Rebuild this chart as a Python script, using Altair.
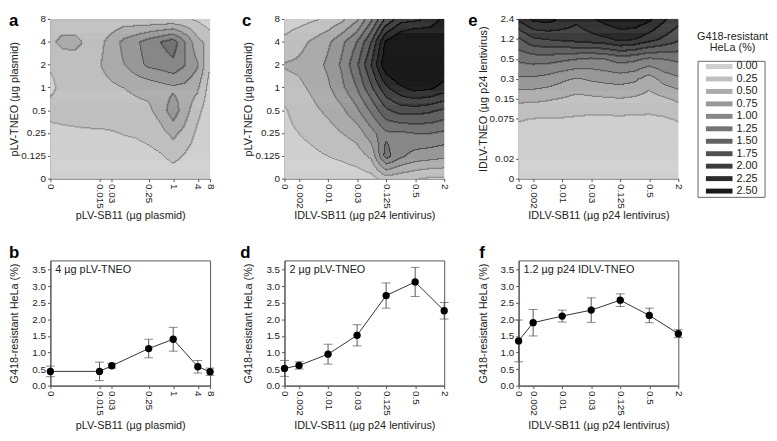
import altair as alt
import numpy as np
import pandas as pd

alt.data_transformers.disable_max_rows()
FONT = "Liberation Sans"

# ---------------- categories / tick labels ----------------
PL_SB11_CATS = ["0", "0.002", "0.004", "0.008", "0.015", "0.03", "0.06", "0.125", "0.25", "0.5", "1", "2", "4", "8"]
PL_SB11_SHOWN = ["0", "0.015", "0.03", "0.25", "1", "4", "8"]
PL_TNEO_CATS = ["0", "0.125", "0.25", "0.5", "1", "2", "4", "8"]
ID_SB11_CATS = ["0", "0.002", "0.005", "0.01", "0.02", "0.03", "0.06", "0.125", "0.25", "0.5", "1", "2"]
ID_SB11_SHOWN = ["0", "0.002", "0.01", "0.03", "0.125", "0.5", "2"]
ID_TNEO_CATS = ["0", "0.02", "0.04", "0.075", "0.15", "0.3", "0.5", "1.2", "2.4"]
ID_TNEO_SHOWN = ["0", "0.02", "0.075", "0.15", "0.3", "0.5", "1.2", "2.4"]

# ---------------- contour levels ----------------
LEVELS = ["0.00", "0.25", "0.50", "0.75", "1.00", "1.25", "1.50", "1.75", "2.00", "2.25", "2.50"]
GREYS = ["#cfcfcf", "#bfbfbf", "#ababab", "#989898", "#878787", "#747474",
         "#626262", "#505050", "#3c3c3c", "#2a2a2a", "#1a1a1a"]
LINE_GREYS = ["#8f8f8f", "#838383", "#6f6f6f", "#5c5c5c", "#4b4b4b", "#383838",
              "#262626", "#141414", "#0a0a0a", "#050505", "#000000"]

# ---------------- contour grids (top row = highest TNEO) ----------------
GRID_A = [
    [0.30, 0.33, 0.33, 0.30, 0.30, 0.33, 0.35, 0.33, 0.30, 0.30, 0.30, 0.28, 0.22, 0.10],
    [0.43, 0.58, 0.58, 0.45, 0.43, 0.60, 0.82, 0.95, 1.12, 1.25, 1.40, 1.00, 0.57, 0.42],
    [0.27, 0.32, 0.34, 0.38, 0.48, 0.62, 0.74, 0.90, 1.05, 1.10, 1.18, 1.00, 0.78, 0.27],
    [0.20, 0.30, 0.33, 0.36, 0.40, 0.45, 0.50, 0.55, 0.58, 0.65, 0.70, 0.68, 0.55, 0.15],
    [0.32, 0.33, 0.34, 0.35, 0.36, 0.38, 0.40, 0.42, 0.45, 0.60, 0.90, 0.60, 0.32, 0.10],
    [0.18, 0.20, 0.21, 0.22, 0.22, 0.23, 0.26, 0.28, 0.33, 0.42, 0.56, 0.42, 0.20, 0.05],
    [0.08, 0.09, 0.10, 0.10, 0.10, 0.11, 0.12, 0.14, 0.17, 0.22, 0.33, 0.22, 0.10, 0.03],
    [0.02, 0.02, 0.02, 0.02, 0.02, 0.02, 0.02, 0.03, 0.04, 0.05, 0.07, 0.05, 0.03, 0.02],
]
GRID_C = [
    [0.12, 0.16, 0.22, 0.30, 0.45, 0.70, 1.20, 1.80, 2.15, 2.20, 2.30, 2.60],
    [0.30, 0.42, 0.55, 0.70, 0.95, 1.25, 1.75, 2.55, 2.80, 2.95, 2.90, 2.80],
    [0.52, 0.55, 0.62, 0.80, 1.05, 1.45, 2.00, 2.70, 2.95, 3.12, 2.90, 2.75],
    [0.40, 0.45, 0.55, 0.70, 0.95, 1.25, 1.70, 2.20, 2.45, 2.60, 2.55, 2.40],
    [0.22, 0.35, 0.45, 0.55, 0.70, 0.95, 1.30, 1.70, 1.85, 1.85, 1.80, 1.70],
    [0.18, 0.25, 0.32, 0.40, 0.50, 0.60, 0.90, 1.20, 1.20, 1.25, 1.25, 1.20],
    [0.12, 0.15, 0.20, 0.25, 0.30, 0.38, 0.55, 1.35, 1.05, 0.90, 0.85, 0.80],
    [0.05, 0.05, 0.05, 0.06, 0.08, 0.10, 0.15, 0.35, 0.30, 0.25, 0.20, 0.20],
]
GRID_E = [
    [2.30, 2.55, 2.60, 2.45, 2.30, 2.45, 2.60, 2.70, 2.70, 2.55, 2.30, 2.10],
    [1.70, 1.95, 2.00, 2.05, 2.10, 2.15, 2.20, 2.30, 2.25, 2.10, 1.95, 1.80],
    [1.30, 1.35, 1.35, 1.30, 1.25, 1.20, 1.25, 1.35, 1.30, 1.20, 1.25, 1.30],
    [0.95, 0.95, 0.90, 0.80, 0.72, 0.78, 0.82, 0.85, 0.80, 0.62, 0.85, 0.95],
    [0.55, 0.55, 0.52, 0.48, 0.42, 0.44, 0.46, 0.48, 0.45, 0.40, 0.45, 0.55],
    [0.27, 0.24, 0.23, 0.23, 0.22, 0.20, 0.20, 0.20, 0.20, 0.20, 0.22, 0.27],
    [0.12, 0.12, 0.12, 0.11, 0.10, 0.10, 0.10, 0.10, 0.10, 0.10, 0.10, 0.12],
    [0.05, 0.05, 0.05, 0.05, 0.05, 0.05, 0.05, 0.05, 0.05, 0.05, 0.05, 0.05],
    [0.00, 0.00, 0.00, 0.00, 0.00, 0.00, 0.00, 0.00, 0.00, 0.00, 0.00, 0.00],
]

# ---------------- line panels ----------------
B_X = ["0", "0.015", "0.03", "0.25", "1", "4", "8"]
B_Y = [0.43, 0.43, 0.60, 1.12, 1.40, 0.57, 0.42]
B_ERR = [0.16, 0.28, 0.07, 0.28, 0.36, 0.19, 0.11]
D_X = ["0", "0.002", "0.01", "0.03", "0.125", "0.5", "2"]
D_Y = [0.52, 0.61, 0.95, 1.52, 2.72, 3.13, 2.26]
D_ERR = [0.24, 0.11, 0.30, 0.32, 0.38, 0.44, 0.25]
F_X = ["0", "0.002", "0.01", "0.03", "0.125", "0.5", "2"]
F_Y = [1.35, 1.90, 2.10, 2.28, 2.58, 2.12, 1.57]
F_ERR = [0.63, 0.40, 0.18, 0.37, 0.19, 0.22, 0.12]
Y_TICKS = [0.0, 0.5, 1.0, 1.5, 2.0, 2.5, 3.0, 3.5]

PW, PH, LH = 162, 162, 127


def lab_expr(cats, shown):
    parts = [f"datum.value == {cats.index(s)} ? '{s}'" for s in shown]
    return " : ".join(parts) + " : ''"


def raster_rows(grid_top_first, W=PW, H=PH, step=0.25):
    G = np.array(grid_top_first[::-1], dtype=float)
    ny, nx = G.shape
    u = (np.arange(W) + 0.5) * (nx - 1) / W
    v = (np.arange(H) + 0.5) * (ny - 1) / H
    i0 = np.minimum(np.floor(u).astype(int), nx - 2)
    fu = u - i0
    j0 = np.minimum(np.floor(v).astype(int), ny - 2)
    fv = (v - j0)[:, None]
    g00 = G[np.ix_(j0, i0)]
    g01 = G[np.ix_(j0, i0 + 1)]
    g10 = G[np.ix_(j0 + 1, i0)]
    g11 = G[np.ix_(j0 + 1, i0 + 1)]
    Z = (g00 * (1 - fu) + g01 * fu) * (1 - fv) + (g10 * (1 - fu) + g11 * fu) * fv
    B = np.clip(np.floor(Z / step), 0, len(GREYS) - 1).astype(int)
    er = B[:, :-1] != B[:, 1:]
    eu = B[:-1, :] != B[1:, :]
    edge = np.zeros(B.shape, bool)
    up = np.zeros(B.shape, int)
    edge[:, :-1] |= er
    up[:, :-1] = np.where(er, np.maximum(B[:, :-1], B[:, 1:]), 0)
    edge[:-1, :] |= eu
    up[:-1, :] = np.maximum(up[:-1, :], np.where(eu, np.maximum(B[:-1, :], B[1:, :]), 0))
    code = np.where(edge, 100 + up, B)
    du = (nx - 1) / W
    dv = (ny - 1) / H
    rows = []
    for q in range(H):
        r = code[q]
        start = 0
        for p in range(1, W + 1):
            if p == W or r[p] != r[start]:
                c = r[start]
                col = LINE_GREYS[c - 100] if c >= 100 else GREYS[c]
                x1 = p * du + (0.6 * du if p < W else 0)
                y1 = (q + 1) * dv + (0.6 * dv if q < H - 1 else 0)
                rows.append({"x0": round(start * du, 4), "x1": round(x1, 4),
                             "y0": round(q * dv, 4), "y1": round(y1, 4), "c": col})
                start = p
    return pd.DataFrame(rows)


def letter_layer(letter, x, y, baseline):
    return alt.Chart(pd.DataFrame({"t": [letter]})).mark_text(
        align="left", baseline=baseline, fontSize=17, fontWeight="bold", font=FONT, color="#000"
    ).encode(x=alt.value(x), y=alt.value(y), text="t:N")


def contour_panel(grid, xcats, xshown, ycats, yshown, letter, lx, xtitle, ytitle):
    df = raster_rows(grid)
    nx, ny = len(xcats), len(ycats)
    xax = alt.Axis(values=[xcats.index(s) for s in xshown], labelExpr=lab_expr(xcats, xshown),
                   labelAngle=90, labelAlign="left", labelBaseline="middle", title=xtitle,
                   minExtent=30, maxExtent=30, titlePadding=1, labelFlush=False,
                   labelOverlap=False, labelBound=False)
    yax = alt.Axis(values=[ycats.index(s) for s in yshown], labelExpr=lab_expr(ycats, yshown),
                   title=ytitle, minExtent=30, maxExtent=30, titlePadding=1,
                   labelFlush=False, labelOverlap=False)
    rect = alt.Chart(df).mark_rect(strokeWidth=0).encode(
        x=alt.X("x0:Q", scale=alt.Scale(domain=[0, nx - 1], nice=False, zero=False), axis=xax),
        x2="x1:Q",
        y=alt.Y("y0:Q", scale=alt.Scale(domain=[0, ny - 1], nice=False, zero=False), axis=yax),
        y2="y1:Q",
        color=alt.Color("c:N", scale=None),
    )
    return alt.layer(rect, letter_layer(letter, lx, -6, "top")).properties(
        width=PW, height=PH, view=alt.ViewBackground(stroke="transparent"))


def line_panel(xcats, xshown, xs, ys, errs, letter, lx, note, xtitle):
    df = pd.DataFrame({"x": [xcats.index(s) for s in xs], "y": ys,
                       "lo": [a - b for a, b in zip(ys, errs)],
                       "hi": [a + b for a, b in zip(ys, errs)]})
    xscale = alt.Scale(domain=[0, len(xcats) - 1], nice=False, zero=False)
    yscale = alt.Scale(domain=[0, 3.78], nice=False)
    xax = alt.Axis(values=[xcats.index(s) for s in xshown], labelExpr=lab_expr(xcats, xshown),
                   labelAngle=90, labelAlign="left", labelBaseline="middle", title=xtitle,
                   minExtent=30, maxExtent=30, titlePadding=5, labelFlush=False,
                   labelOverlap=False, labelBound=False)
    yax = alt.Axis(values=Y_TICKS, format=".1f", title="G418-resistant HeLa (%)",
                   minExtent=30, maxExtent=30, titlePadding=1, labelFlush=False, labelOverlap=False)

    def X(f):
        return alt.X(f"{f}:Q", scale=xscale, axis=xax)

    def Y(f):
        return alt.Y(f"{f}:Q", scale=yscale, axis=yax)

    base = alt.Chart(df)
    bars = base.mark_rule(color="#555", strokeWidth=1).encode(x=X("x"), y=Y("lo"), y2="hi:Q")
    cap_lo = base.mark_tick(orient="horizontal", size=9, thickness=1, color="#555").encode(x=X("x"), y=Y("lo"))
    cap_hi = base.mark_tick(orient="horizontal", size=9, thickness=1, color="#555").encode(x=X("x"), y=Y("hi"))
    line = base.mark_line(color="#333", strokeWidth=1).encode(x=X("x"), y=Y("y"))
    pts = base.mark_circle(size=55, color="#000", opacity=1).encode(x=X("x"), y=Y("y"))
    txt = alt.Chart(pd.DataFrame({"t": [note]})).mark_text(
        align="left", baseline="top", fontSize=11, font=FONT, color="#222"
    ).encode(x=alt.value(5), y=alt.value(4), text="t:N")
    return alt.layer(bars, cap_lo, cap_hi, line, pts, txt, letter_layer(letter, lx, -2, "alphabetic")).properties(
        width=PW, height=LH, view=alt.ViewBackground(stroke="#555", strokeWidth=1))


# ---------------- legend panel ----------------
leg_df = pd.DataFrame({"lab": LEVELS, "k": list(range(len(LEVELS))), "hex": GREYS})
yl = alt.Y("k:Q", scale=alt.Scale(domain=[-3.82, 9.0], reverse=True, nice=False, zero=False), axis=None)
leg_box = alt.Chart(pd.DataFrame({"z": [0]})).mark_rect(fillOpacity=0, stroke="#666", strokeWidth=1).encode(
    x=alt.value(-55.5), x2=alt.value(12.5), y=alt.value(43), y2=alt.value(181))
leg_sw = alt.Chart(leg_df).mark_rule(strokeWidth=5).encode(
    x=alt.value(-47.5), x2=alt.value(-20.5), y=yl, color=alt.Color("hex:N", scale=None))
leg_lab = alt.Chart(leg_df).mark_text(align="left", baseline="middle", fontSize=11, font=FONT, color="#222").encode(
    x=alt.value(-16.5), y=yl, text="lab:N")
leg_t1 = alt.Chart(pd.DataFrame({"t": ["G418-resistant"]})).mark_text(
    align="center", baseline="middle", fontSize=11, font=FONT, color="#222").encode(
    x=alt.value(-20.5), y=alt.value(18), text="t:N")
leg_t2 = alt.Chart(pd.DataFrame({"t": ["HeLa (%)"]})).mark_text(
    align="center", baseline="middle", fontSize=11, font=FONT, color="#222").encode(
    x=alt.value(-20.5), y=alt.value(29.5), text="t:N")
legend = alt.layer(leg_box, leg_sw, leg_lab, leg_t1, leg_t2).properties(
    width=1, height=PH, view=alt.ViewBackground(stroke="transparent"))

pa = contour_panel(GRID_A, PL_SB11_CATS, PL_SB11_SHOWN, PL_TNEO_CATS, PL_TNEO_CATS, "a", -42,
                   "pLV-SB11 (µg plasmid)", "pLV-TNEO (µg plasmid)")
pc = contour_panel(GRID_C, ID_SB11_CATS, ID_SB11_SHOWN, PL_TNEO_CATS, PL_TNEO_CATS, "c", -43,
                   "IDLV-SB11 (µg p24 lentivirus)", "pLV-TNEO (µg plasmid)")
pe = contour_panel(GRID_E, ID_SB11_CATS, ID_SB11_SHOWN, ID_TNEO_CATS, ID_TNEO_SHOWN, "e", -51,
                   "IDLV-SB11 (µg p24 lentivirus)", "IDLV-TNEO (µg p24 lentivirus)")
pb = line_panel(PL_SB11_CATS, PL_SB11_SHOWN, B_X, B_Y, B_ERR, "b", -42, "4 µg pLV-TNEO",
                "pLV-SB11 (µg plasmid)")
pd_ = line_panel(ID_SB11_CATS, ID_SB11_SHOWN, D_X, D_Y, D_ERR, "d", -45, "2 µg pLV-TNEO",
                 "IDLV-SB11 (µg p24 lentivirus)")
pf = line_panel(ID_SB11_CATS, ID_SB11_SHOWN, F_X, F_Y, F_ERR, "f", -40, "1.2 µg p24 IDLV-TNEO",
                "IDLV-SB11 (µg p24 lentivirus)")

chart = alt.concat(
    pa, pc, pe, legend, pb, pd_, pf,
    columns=4, spacing={"row": 83, "column": 75.5}, bounds="flush", align="each",
    padding={"left": 0, "top": 0, "right": 0, "bottom": 0},
).configure_axis(
    labelFont=FONT, titleFont=FONT, labelFontSize=10, titleFontSize=11, titleFontWeight="normal",
    labelColor="#222", titleColor="#222", domainColor="#555", tickColor="#555",
    tickSize=3, labelPadding=2, grid=False,
).configure_view(stroke="#555")

chart.save("out.html", embed_options={"renderer": "svg", "actions": False})
